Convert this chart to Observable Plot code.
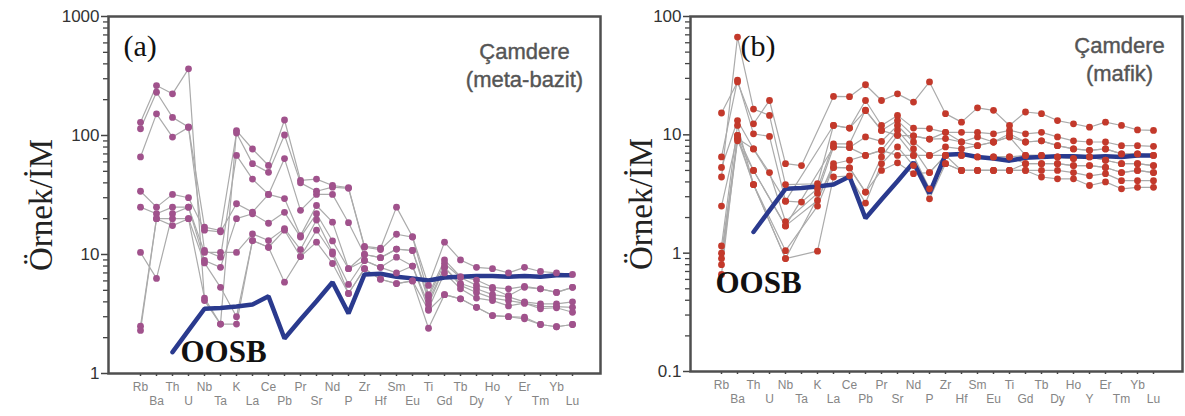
<!DOCTYPE html>
<html><head><meta charset="utf-8">
<script src="https://cdn.jsdelivr.net/npm/d3@7"></script>
<script src="https://cdn.jsdelivr.net/npm/@observablehq/plot@0.6"></script>
<style>
body{margin:0;background:#fff;width:1185px;height:416px;overflow:hidden;position:relative}
#a,#b{position:absolute;top:0}
#a{left:0}#b{left:605px}
</style></head><body><div id="a"></div><div id="b"></div>
<script>
const elements = ["Rb","Ba","Th","U","Nb","Ta","K","La","Ce","Pb","Pr","Sr","Nd","P","Zr","Hf","Sm","Eu","Ti","Gd","Tb","Dy","Ho","Y","Er","Tm","Yb","Lu"];

// OOSB (N-MORB) normalised to primitive mantle
const oosb = [null,null,1.51,2.3,3.5,3.55,3.66,3.8,4.45,1.97,2.84,4.05,5.85,3.2,6.8,6.9,6.5,6.3,6.05,6.4,6.5,6.6,6.6,6.5,6.6,6.5,6.7,6.7];

// (a) Çamdere meta-bazit samples
const samplesA = [
  [129,263,224,363,4.1,2.6,110,77,56,135,42,43,38,36.5,11.7,11.3,25,14.1,5.5,12.7,9.0,7.8,7.6,7.0,7.8,7.2,7.0,6.8],
  [114,231,142,118,17,15.9,105,58,49,101,40,34,36.8,36,11.5,11,14.8,14,4.6,9.0,6.5,6.1,5.3,5.15,5.4,5.15,4.8,5.3],
  [66,152,97,117,10.8,9.5,68,43,32,64,23.5,32,32,18.5,10,9.4,11.1,10.8,4.4,8.4,6.4,5.5,5.15,4.5,5.3,5.15,4.8,5.3],
  [34,25,32,30,16,15.5,26.7,22.7,32,29.5,14.4,25.8,18.7,7.6,10,9.4,11.1,10.8,4.1,7.8,5.7,5.15,4.6,4.4,4.0,3.85,3.85,4.0],
  [25,22,25,25,8.9,7.8,20,22,18.3,22.6,14,22,13,7.6,8.9,7.8,9.5,8.0,3.8,7.8,5.5,4.8,4.3,4.1,3.9,3.65,3.65,3.6],
  [10.4,6.3,22,25,10.4,10.4,10.4,14.9,13.1,16.5,11,19.5,10.5,5.6,8.9,7.8,7.0,8.0,3.5,7.0,5.15,4.3,4.1,3.7,3.9,3.5,3.57,3.27],
  [2.5,20,20,20,8.5,5.3,3.0,13.1,11.5,16,9.6,16,10.1,4.7,7.6,6.2,5.7,6.0,3.4,4.6,4.24,3.6,3.07,3.0,2.97,2.58,2.47,2.58],
  [2.3,20,17.5,20,4.3,2.6,2.6,13.1,11.5,5.85,9.6,12.7,8.4,4.7,7.6,6.2,5.7,6.0,2.4,4.6,4.24,3.6,3.07,3.0,2.88,2.58,2.47,2.58]
];

// (b) Çamdere mafik samples (null = not analysed)
const samplesB = [
  [15.3,28,12.4,19.5,5.7,5.5,null,21.1,21,26.5,19.5,22.2,18.9,28,15.1,12.8,16.9,16.1,12,15.6,15.1,13.2,12.4,11.6,12.8,12,11.0,10.9],
  [4.4,67,16.5,14.6,3.8,null,3.86,12,11.4,19.5,12,14.6,11.4,11.3,10.5,10.5,10.5,10.2,10.9,10.2,10.5,9.6,8.9,8.7,8.7,8.1,8.1,8.0],
  [6.5,29,10.2,9.7,2.75,2.7,3.5,8.4,8.4,16.2,10.9,13.2,9.8,9.2,9.3,8.7,9.6,8.7,10.2,8.7,8.9,8.1,7.6,7.4,7.6,6.9,6.9,6.7],
  [5.3,13.2,7.6,4.8,1.85,null,3.2,7.9,7.8,9.6,8.8,12,8.7,6.7,7.9,7.6,8.1,8.7,9.6,6.7,6.7,6.5,6.3,6.5,6.1,5.7,5.7,5.5],
  [2.5,9.9,5.0,null,1.7,null,2.79,5.7,6.1,6.7,7.4,10.9,7.6,4.8,6.7,6.7,6.5,6.5,6.5,5.7,5.7,5.7,5.5,5.5,5.3,4.8,5.0,4.8],
  [1.15,12,3.8,null,1.05,null,2.5,5.3,5.25,3.28,6.5,9.9,6.7,3.5,5.7,5.0,5.0,5.0,5.0,5.0,5.0,5.0,4.8,4.5,4.7,4.1,4.1,4.1],
  [1.0,9.3,3.8,null,0.9,null,1.04,4.4,4.5,2.65,5.7,7.9,5.5,2.88,5.7,5.0,5.0,5.0,5.0,5.0,4.4,4.25,4.25,3.73,4.0,3.5,3.6,3.6],
  [0.9,9.3,7.6,null,2.75,null,null,12,11.4,16,10.9,9.9,9.8,9.2,10.5,8.7,8.1,8.7,9.6,8.7,8.9,8.1,7.6,7.4,7.6,6.9,6.9,6.7],
  [0.8,8.9,5.0,null,1.7,null,null,7.9,7.8,6.7,7.4,6.7,6.7,6.7,6.7,6.7,6.5,6.5,6.5,6.7,6.7,6.5,6.3,6.5,6.1,5.7,5.7,5.5],
  [0.66,9.9,3.8,null,0.9,null,null,5.3,5.25,3.28,5.0,5.8,4.7,4.8,6.7,5.0,5.0,5.0,5.0,5.7,5.7,5.7,5.5,5.5,5.3,4.8,5.0,4.8]
];

const ticksA = [1,10,100,1000];
const ticksB = [0.1,1,10,100];
const yLabel = "Örnek/İM";
const panelTags = ["(a)","(b)"];
const panelTitles = ["Çamdere\n(meta-bazit)","Çamdere\n(mafik)"];
const refLabel = "OOSB";

function rowsOf(samples){
  const out=[];
  samples.forEach((s,k)=>s.forEach((v,i)=>{ if(v!=null) out.push({s:k, el:elements[i], v}); }));
  return out;
}
const oosbRows = oosb.map((v,i)=>({el:elements[i], v})).filter(d=>d.v!=null);

function minorTicks(lo, hi){
  const t=[];
  for(let d=lo; d<hi; d*=10) for(let m=2;m<=9;m++) t.push(+(d*m).toPrecision(3));
  return t;
}

function panel(c){
  const H=416;
  const rows = rowsOf(c.samples);
  const sans = "Liberation Sans, Arial, sans-serif";
  const serif = "Liberation Serif, Times New Roman, serif";
  return Plot.plot({
    width:c.width, height:H,
    marginLeft:c.ml, marginRight:c.mr, marginTop:c.top, marginBottom:H-c.bottom,
    x:{type:"point", domain:elements, range:c.xRange},
    y:{type:"log", domain:c.yDomain},
    style:{background:"transparent", overflow:"visible"},
    marks:[
      Plot.axisY(minorTicks(c.yDomain[0], c.yDomain[1]), {tickSize:5, strokeWidth:1.3, tickFormat:()=>"", stroke:"#444", label:null}),
      Plot.axisY(c.ticks, {tickSize:7, strokeWidth:1.5, tickPadding:2, tickFormat:d=>String(d), fontSize:17, fontFamily:sans, fill:"#333", stroke:"#444", label:null}),
      Plot.axisX({tickSize:3, strokeWidth:1.5, tickFormat:()=>"", stroke:"#444", label:null}),
      Plot.axisX(elements.filter((d,i)=>i%2===0), {tickSize:0, tickPadding:9, fontSize:12, fontFamily:sans, fill:"#858585", label:null}),
      Plot.axisX(elements.filter((d,i)=>i%2===1), {tickSize:0, tickPadding:23, fontSize:12, fontFamily:sans, fill:"#858585", label:null}),
      Plot.line(rows, {x:"el", y:"v", z:"s", stroke:"#ababab", strokeWidth:1.2}),
      Plot.line(oosbRows, {x:"el", y:"v", stroke:"#2a3a8e", strokeWidth:4.5, strokeLinejoin:"miter"}),
      Plot.dot(rows, {x:"el", y:"v", r:3.4, fill:c.dot, stroke:"none"}),
      Plot.frame({stroke:"#4f4f4f", strokeWidth:2.5}),
      Plot.text([c.tag], {frameAnchor:"top-left", dx:c.tagDx, dy:39, lineAnchor:"bottom", textAnchor:"start", fontSize:30, fontFamily:serif, fill:"#111"}),
      Plot.text([c.title], {frameAnchor:"top-right", dx:c.titleDx, dy:c.titleDy, lineAnchor:"top", textAnchor:"middle", fontSize:22, lineHeight:1.3, fontFamily:sans, fill:"#555", stroke:"#555", strokeWidth:0.4}),
      Plot.text([refLabel], {frameAnchor:"bottom-left", dx:c.refDx, dy:c.refDy, lineAnchor:"bottom", textAnchor:"start", fontSize:31, fontWeight:"bold", fontFamily:serif, fill:"#111"}),
      Plot.text([yLabel], {frameAnchor:"left", dx:c.ylDx, dy:c.ylDy, rotate:-90, textAnchor:"middle", fontSize:33, fontFamily:serif, fill:"#222"})
    ]
  });
}

document.getElementById("a").append(panel({
  samples:samplesA, dot:"#a0528c", width:605, ml:108, mr:5, top:16, bottom:373,
  xRange:[125,587], yDomain:[1,1000], ticks:ticksA,
  tag:panelTags[0], tagDx:15, title:panelTitles[0], titleDx:-76, titleDy:22,
  refDx:72, refDy:-12, ylDx:-67, ylDy:10
}));
document.getElementById("b").append(panel({
  samples:samplesB, dot:"#c3392b", width:580, ml:85, mr:3, top:16, bottom:371,
  xRange:[102,562], yDomain:[0.1,100], ticks:ticksB,
  tag:panelTags[1], tagDx:50, title:panelTitles[1], titleDx:-63, titleDy:16,
  refDx:25, refDy:-79, ylDx:-49, ylDy:10
}));
</script>
</body></html>
